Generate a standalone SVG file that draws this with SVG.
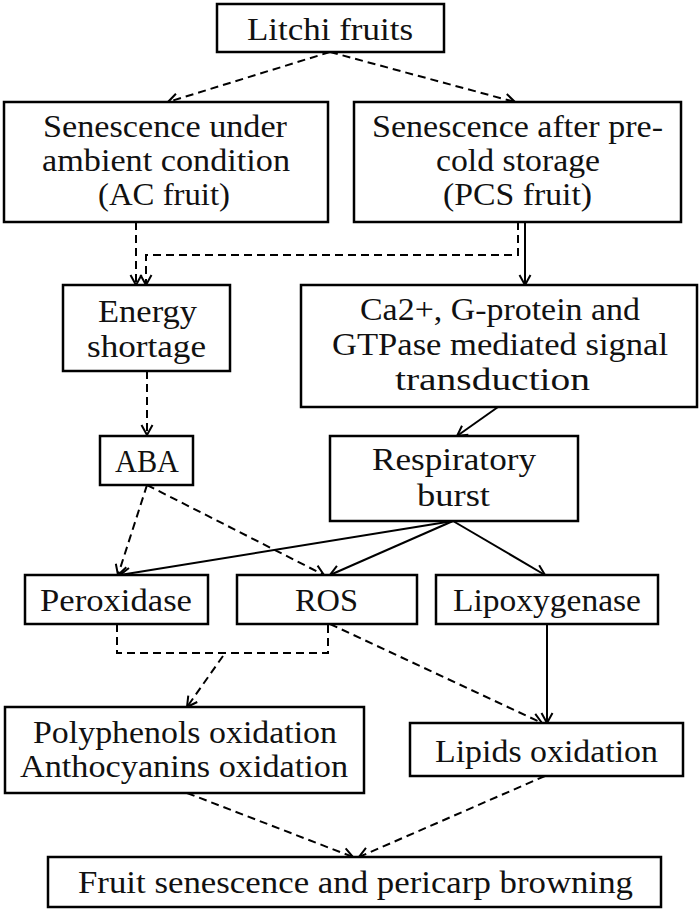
<svg xmlns="http://www.w3.org/2000/svg" width="700" height="910" viewBox="0 0 700 910">
<style>
.box{fill:#fff;stroke:#000;stroke-width:2.5}
.t{font-family:"Liberation Serif","Times New Roman",serif;font-size:31px;fill:#111}
.c{fill:none;stroke:#000;stroke-width:2}
.d{stroke-dasharray:8,5}
</style>
<defs>
<marker id="ah" viewBox="-12 -7 14 14" refX="0" refY="0" markerWidth="14" markerHeight="14" orient="auto" markerUnits="userSpaceOnUse">
<path d="M-10,-5.5 L0,0 L-10,5.5" fill="none" stroke="#000" stroke-width="2" stroke-dasharray="none"/>
</marker>
</defs>
<rect width="700" height="910" fill="#fff"/>
<g id="connectors">
<path class="c d" d="M330,52 L168,102" marker-end="url(#ah)"/>
<path class="c d" d="M330,52 L515,102" marker-end="url(#ah)"/>
<path class="c d" d="M136,222 L136,285" marker-end="url(#ah)"/>
<path class="c d" d="M518,222 L518,255 L146,255 L146,285" marker-end="url(#ah)"/>
<path class="c" d="M525,222 L525,285" marker-end="url(#ah)"/>
<path class="c" d="M498,407 L457,436" marker-end="url(#ah)"/>
<path class="c d" d="M147,371 L147,435" marker-end="url(#ah)"/>
<path class="c d" d="M147,485 L118,575" marker-end="url(#ah)"/>
<path class="c d" d="M147,485 L324,575" marker-end="url(#ah)"/>
<path class="c" d="M453,521 L120,575" marker-end="url(#ah)"/>
<path class="c" d="M453,521 L330,575" marker-end="url(#ah)"/>
<path class="c" d="M453,521 L545,575" marker-end="url(#ah)"/>
<path class="c d" d="M117,624 L117,653 L328,653 L328,624"/>
<path class="c d" d="M223,656 L187,707" marker-end="url(#ah)"/>
<path class="c d" d="M330,624 L542,723" marker-end="url(#ah)"/>
<path class="c" d="M547,624 L547,723" marker-end="url(#ah)"/>
<path class="c d" d="M187,793 L353,857" marker-end="url(#ah)"/>
<path class="c d" d="M545,776 L359,857" marker-end="url(#ah)"/>
</g>
<g id="litchi"><rect class="box" x="217" y="4" width="227" height="48"/>
<text class="t" x="247" y="40" textLength="166" lengthAdjust="spacingAndGlyphs">Litchi fruits</text></g>
<g id="ac"><rect class="box" x="4" y="102" width="324" height="120"/>
<text class="t" x="43" y="137" textLength="244" lengthAdjust="spacingAndGlyphs">Senescence under</text>
<text class="t" x="42" y="171" textLength="248" lengthAdjust="spacingAndGlyphs">ambient condition</text>
<text class="t" x="98" y="205" textLength="132" lengthAdjust="spacingAndGlyphs">(AC fruit)</text></g>
<g id="pcs"><rect class="box" x="354" y="102" width="327" height="120"/>
<text class="t" x="372" y="137" textLength="291" lengthAdjust="spacingAndGlyphs">Senescence after pre-</text>
<text class="t" x="436" y="171" textLength="164" lengthAdjust="spacingAndGlyphs">cold storage</text>
<text class="t" x="443" y="205" textLength="149" lengthAdjust="spacingAndGlyphs">(PCS fruit)</text></g>
<g id="energy"><rect class="box" x="63" y="285" width="167" height="86"/>
<text class="t" x="98" y="322" textLength="99" lengthAdjust="spacingAndGlyphs">Energy</text>
<text class="t" x="87" y="357" textLength="119" lengthAdjust="spacingAndGlyphs">shortage</text></g>
<g id="signal"><rect class="box" x="301" y="285" width="396" height="122"/>
<text class="t" x="360" y="320" textLength="280" lengthAdjust="spacingAndGlyphs">Ca2+, G-protein and</text>
<text class="t" x="332" y="355" textLength="336" lengthAdjust="spacingAndGlyphs">GTPase mediated signal</text>
<text class="t" x="395" y="390" textLength="195" lengthAdjust="spacingAndGlyphs">transduction</text></g>
<g id="aba"><rect class="box" x="100" y="436" width="93" height="49"/>
<text class="t" x="115" y="472" textLength="64" lengthAdjust="spacingAndGlyphs">ABA</text></g>
<g id="resp"><rect class="box" x="330" y="436" width="248" height="85"/>
<text class="t" x="372" y="470" textLength="164" lengthAdjust="spacingAndGlyphs">Respiratory</text>
<text class="t" x="417" y="506" textLength="73" lengthAdjust="spacingAndGlyphs">burst</text></g>
<g id="peroxidase"><rect class="box" x="25" y="575" width="183" height="49"/>
<text class="t" x="40" y="611" textLength="152" lengthAdjust="spacingAndGlyphs">Peroxidase</text></g>
<g id="ros"><rect class="box" x="237" y="575" width="180" height="49"/>
<text class="t" x="295" y="611" textLength="63" lengthAdjust="spacingAndGlyphs">ROS</text></g>
<g id="lipox"><rect class="box" x="436" y="575" width="222" height="49"/>
<text class="t" x="453" y="611" textLength="188" lengthAdjust="spacingAndGlyphs">Lipoxygenase</text></g>
<g id="poly"><rect class="box" x="5" y="707" width="359" height="86"/>
<text class="t" x="33" y="743" textLength="304" lengthAdjust="spacingAndGlyphs">Polyphenols oxidation</text>
<text class="t" x="20" y="777" textLength="328" lengthAdjust="spacingAndGlyphs">Anthocyanins oxidation</text></g>
<g id="lipids"><rect class="box" x="410" y="723" width="273" height="53"/>
<text class="t" x="435" y="762" textLength="223" lengthAdjust="spacingAndGlyphs">Lipids oxidation</text></g>
<g id="browning"><rect class="box" x="48" y="857" width="613" height="50"/>
<text class="t" x="78" y="893" textLength="555" lengthAdjust="spacingAndGlyphs">Fruit senescence and pericarp browning</text></g>
</svg>
